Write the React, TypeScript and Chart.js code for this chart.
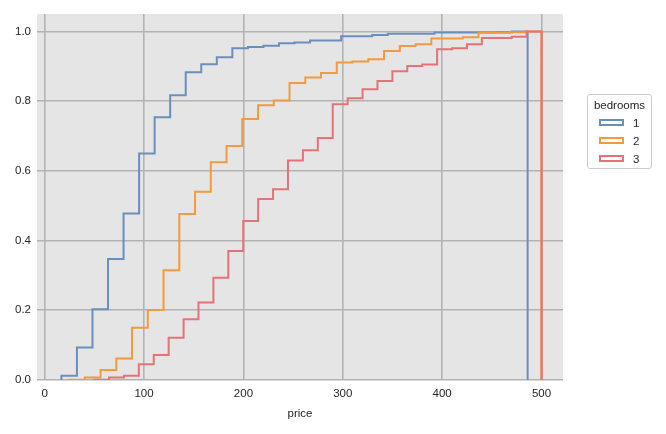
import React, { useEffect, useRef } from "react";
import { Chart, registerables } from "chart.js";

Chart.register(...registerables);

// ---- data ----
const hueLabels = ["1", "2", "3"];
const hueColors = ["#6b8fbc", "#f4993e", "#e67176"];
const binStarts = [16.8, 24.5, 49.7];
const binEnds = [486, 500, 500];

// cumulative proportion per bin (30 bins per hue)
const bedrooms1 = [
  0.012, 0.093, 0.203, 0.347, 0.478, 0.65, 0.754, 0.817, 0.883, 0.906,
  0.926, 0.952, 0.955, 0.959, 0.966, 0.968, 0.974, 0.974, 0.986, 0.986,
  0.99, 0.993, 0.993, 0.993, 0.997, 0.997, 0.997, 0.997, 0.998, 1.0,
];
const bedrooms2 = [
  0.001, 0.007, 0.029, 0.062, 0.15, 0.201, 0.315, 0.476, 0.54, 0.625,
  0.671, 0.749, 0.788, 0.802, 0.852, 0.868, 0.881, 0.911, 0.914, 0.92,
  0.944, 0.958, 0.963, 0.98, 0.98, 0.983, 0.996, 0.996, 0.998, 1.0,
];
const bedrooms3 = [
  0.001, 0.007, 0.012, 0.045, 0.072, 0.121, 0.174, 0.222, 0.293, 0.37,
  0.456, 0.519, 0.547, 0.63, 0.659, 0.694, 0.791, 0.808, 0.834, 0.858,
  0.886, 0.901, 0.905, 0.949, 0.952, 0.963, 0.981, 0.981, 0.985, 1.0,
];
const seriesValues = [bedrooms1, bedrooms2, bedrooms3];

const xTickValues = [0, 100, 200, 300, 400, 500];
const yTickValues = [0, 0.2, 0.4, 0.6, 0.8, 1.0];
const xTitle = "price";
const legendTitle = "bedrooms";

const FONT = "'Liberation Sans', Arial, Helvetica, sans-serif";
const TEXT = "#262626";

function stepPoints(start: number, end: number, cum: number[]) {
  const n = cum.length;
  const w = (end - start) / n;
  const pts: { x: number; y: number }[] = [{ x: start, y: 0 }];
  cum.forEach((v, i) => pts.push({ x: start + i * w, y: v }));
  pts.push({ x: end, y: cum[n - 1] });
  pts.push({ x: end, y: 0 });
  return pts;
}

const bgPlugin = {
  id: "plotBg",
  beforeDraw(chart: any) {
    const { ctx, chartArea } = chart;
    if (!chartArea) return;
    ctx.save();
    ctx.fillStyle = "#e5e5e5";
    ctx.fillRect(chartArea.left, chartArea.top, chartArea.right - chartArea.left, chartArea.bottom - chartArea.top);
    ctx.restore();
  },
};

export default function App() {
  const canvasRef = useRef<HTMLCanvasElement | null>(null);

  useEffect(() => {
    if (!canvasRef.current) return;
    const datasets = seriesValues.map((vals, i) => ({
      label: hueLabels[i],
      data: stepPoints(binStarts[i], binEnds[i], vals),
      borderColor: hueColors[i],
      backgroundColor: "transparent",
      borderWidth: 2,
      pointRadius: 0,
      fill: false,
      stepped: true,
      tension: 0,
      order: 2 - i,
    }));
    const chart = new Chart(canvasRef.current, {
      type: "line",
      data: { datasets },
      plugins: [bgPlugin],
      options: {
        animation: false,
        responsive: false,
        maintainAspectRatio: false,
        layout: { padding: { left: 0, right: 103, top: 14, bottom: 0 } },
        plugins: { legend: { display: false }, tooltip: { enabled: false } },
        scales: {
          x: {
            type: "linear",
            min: -7.75,
            max: 521.6,
            afterFit: (s: any) => {
              s.height = 54;
            },
            afterBuildTicks: (s: any) => {
              s.ticks = xTickValues.map((v) => ({ value: v }));
            },
            ticks: {
              padding: 7,
              color: TEXT,
              font: { family: FONT, size: 11.5 },
              callback: (v: any) => String(v),
            },
            grid: { color: "#b3b3b3", lineWidth: 1.6, drawTicks: false },
            border: { display: false },
            title: {
              display: true,
              text: xTitle,
              color: TEXT,
              font: { family: FONT, size: 11.5 },
              padding: { top: 0, bottom: 13 },
            },
          },
          y: {
            type: "linear",
            min: 0,
            max: 1.05,
            afterFit: (s: any) => {
              s.width = 37;
            },
            afterBuildTicks: (s: any) => {
              s.ticks = yTickValues.map((v) => ({ value: v }));
            },
            ticks: {
              padding: 6,
              color: TEXT,
              font: { family: FONT, size: 11.5 },
              callback: (v: any) => Number(v).toFixed(1),
            },
            grid: { color: "#b3b3b3", lineWidth: 1.6, drawTicks: false },
            border: { display: false },
          },
        },
      },
    } as any);
    return () => chart.destroy();
  }, []);

  return (
    <div style={{ position: "absolute", left: 0, top: 0, width: 666, height: 434, background: "#fff" }}>
      <canvas ref={canvasRef} width={666} height={434} style={{ width: 666, height: 434, display: "block" }} />
      <div
        style={{
          position: "absolute",
          left: 587,
          top: 94,
          width: 63,
          height: 73,
          border: "1px solid #cccccc",
          borderRadius: 3,
          background: "#fff",
          fontFamily: FONT,
          fontSize: 11.5,
          color: TEXT,
          boxSizing: "content-box",
        }}
      >
        <div style={{ position: "absolute", left: 0, width: 63, top: 4, textAlign: "center", lineHeight: "13px" }}>
          {legendTitle}
        </div>
        {hueLabels.map((lab, i) => (
          <div key={lab} style={{ position: "absolute", left: 0, top: 24 + i * 18, height: 9, width: 63 }}>
            <div
              style={{
                position: "absolute",
                left: 11,
                top: 0,
                width: 21,
                height: 3,
                border: `2px solid ${hueColors[i]}`,
              }}
            />
            <div style={{ position: "absolute", left: 45, top: -2, lineHeight: "13px" }}>{lab}</div>
          </div>
        ))}
      </div>
    </div>
  );
}
